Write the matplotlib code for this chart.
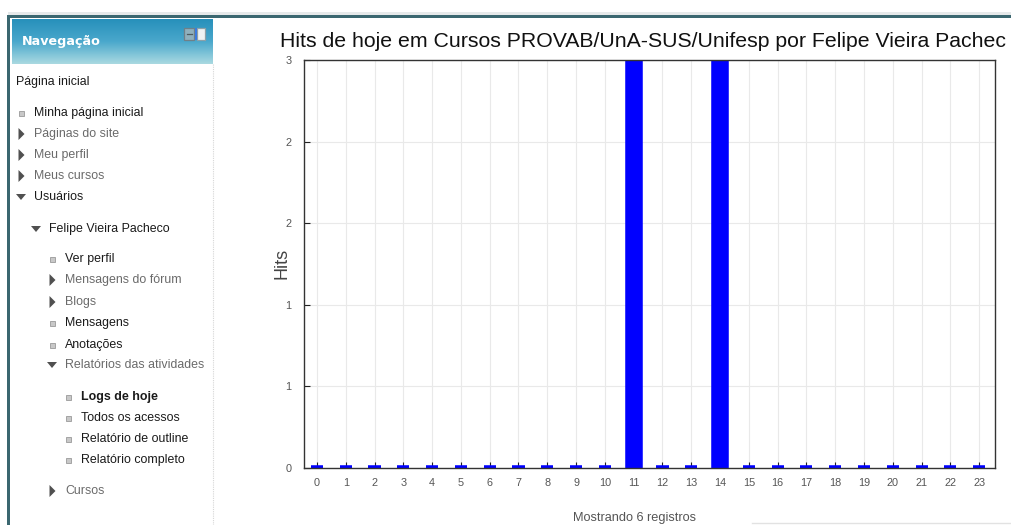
import matplotlib
matplotlib.use('Agg')
import numpy as np
import matplotlib.pyplot as plt
from matplotlib import font_manager
from matplotlib.patches import Rectangle, Polygon
from matplotlib.colors import LinearSegmentedColormap

# --- DATA ---
hours = [0, 1, 2, 3, 4, 5, 6, 7, 8, 9, 10, 11,
         12, 13, 14, 15, 16, 17, 18, 19, 20, 21, 22, 23]
hits = [0, 0, 0, 0, 0, 0, 0, 0, 0, 0, 0, 3,
        0, 0, 3, 0, 0, 0, 0, 0, 0, 0, 0, 0]
y_ticks = [0, 0.6, 1.2, 1.8, 2.4, 3.0]
chart_title = "Hits de hoje em Cursos PROVAB/UnA-SUS/Unifesp por Felipe Vieira Pachec"
y_label = "Hits"
footer = "Mostrando 6 registros"

nav_title = "Navegação"
nav_labels = ["Página inicial", "Minha página inicial", "Páginas do site", "Meu perfil",
              "Meus cursos", "Usuários", "Felipe Vieira Pacheco", "Ver perfil",
              "Mensagens do fórum", "Blogs", "Mensagens", "Anotações",
              "Relatórios das atividades", "Logs de hoje", "Todos os acessos",
              "Relatório de outline", "Relatório completo", "Cursos"]
nav_levels = [0, 1, 1, 1, 1, 1, 2, 3, 3, 3, 3, 3, 3, 4, 4, 4, 4, 3]
nav_kinds = ["none", "leaf", "closed", "closed", "closed", "open", "open", "leaf",
             "closed", "closed", "leaf", "leaf", "open", "leaf", "leaf", "leaf", "leaf", "closed"]


def pick_font(*names):
    avail = {f.name for f in font_manager.fontManager.ttflist}
    for n in names:
        if n in avail:
            return n
    return 'DejaVu Sans'


NARROW = pick_font('Liberation Sans Narrow', 'Liberation Sans')
W, H = 1011, 525

fig = plt.figure(figsize=(W / 100, H / 100), dpi=100)
fig.patch.set_facecolor('white')

# --- PAGE / SIDEBAR (pixel coordinates) ---
bg = fig.add_axes([0, 0, 1, 1])
bg.axis('off')

# top bar + left border
bg.add_patch(Rectangle((8, 12), W - 8, 3, color='#e6e9ea', lw=0))
bg.add_patch(Rectangle((8, 15), W - 8, 3, color='#3b6770', lw=0))
bg.add_patch(Rectangle((7, 15), 3, H - 15, color='#3b6770', lw=0))

# header gradient
grad = np.linspace(0, 1, 64).reshape(-1, 1)
cm_head = LinearSegmentedColormap.from_list('head', ['#2790bb', '#4aa8cc', '#a9d9e1'])
bg.imshow(grad, extent=[12, 213, 64, 19], aspect='auto', cmap=cm_head, interpolation='bilinear')
bg.text(22, 42, nav_title, color='white', fontsize=9.2, weight='bold',
        family='DejaVu Sans', va='center', ha='left')
# dock icon
bg.add_patch(Rectangle((184, 27.5), 10, 12, facecolor='#8fb0bd', edgecolor='#6f8088', lw=0.9))
bg.plot([186.5, 191.5], [33.5, 33.5], color='#4d5b60', lw=0.9)
bg.add_patch(Rectangle((197, 27.5), 8, 12, facecolor='#eef2f3', edgecolor='#8ea0a7', lw=0.9))
bg.add_patch(Rectangle((195, 27.5), 2.2, 12, facecolor='#3b7be0', lw=0))

# dotted right border of block
bg.plot([213, 213], [64, H], color='#d6d6d6', lw=0.8, ls=(0, (1, 1)))

row_y = [82, 113, 134, 155, 176, 197, 229, 259, 280, 302, 323, 345, 365,
         397, 418, 439, 460, 491]
text_x = [16, 34, 49, 65, 81]
dark = {"Minha página inicial", "Usuários", "Felipe Vieira Pacheco", "Ver perfil",
        "Mensagens", "Anotações", "Logs de hoje", "Todos os acessos",
        "Relatório de outline", "Relatório completo", "Página inicial"}
for label, lvl, kind, y in zip(nav_labels, nav_levels, nav_kinds, row_y):
    x = text_x[lvl]
    cx = x - 13
    if kind == "leaf":
        bg.add_patch(Rectangle((cx - 2, y - 2), 5, 5, facecolor='#c8c8c8',
                               edgecolor='#9a9a9a', lw=0.6))
    elif kind == "closed":
        bg.add_patch(Polygon([(cx - 2.5, y - 6), (cx - 2.5, y + 6), (cx + 3.5, y)],
                             closed=True, color='#505050', lw=0))
    elif kind == "open":
        bg.add_patch(Polygon([(cx - 5, y - 3), (cx + 5, y - 3), (cx, y + 3)],
                             closed=True, color='#505050', lw=0))
    col = '#1a1a1a' if label in dark else '#6a6a6a'
    bg.text(x, y, label, fontsize=8.9, family=NARROW, color=col, va='center', ha='left',
            weight='bold' if label == "Logs de hoje" else 'normal')

# footer text + faint box
bg.text(573, 524, footer, fontsize=9.2, family=NARROW, color='#555555', va='bottom', ha='left')
bg.plot([752, W], [522.5, 522.5], color='#e2e2e2', lw=1)

bg.set_xlim(0, W)
bg.set_ylim(H, 0)

# --- CHART ---
ax = fig.add_axes([304 / W, 1 - 468 / H, 691 / W, 408 / H])
ax.bar(hours, hits, width=0.42, color='#0000ff', edgecolor='#0000ff', linewidth=4, zorder=2)
ax.set_xlim(-0.45, 23.55)
ax.set_ylim(0, 3)
ax.set_xticks(hours)
ax.set_xticklabels([str(h) for h in hours])
ax.set_yticks(y_ticks)
ax.set_yticklabels([str(int(round(v))) for v in y_ticks])
ax.grid(True, color='#e9e9e9', lw=0.8, zorder=0)
ax.set_axisbelow(True)
ax.tick_params(direction='in', length=4, width=0.8, color='#222222',
               labelcolor='#555555', labelsize=7.8, pad=7)
ax.tick_params(axis='y', pad=9)
for lab in ax.get_xticklabels() + ax.get_yticklabels():
    lab.set_family(NARROW)
for s in ax.spines.values():
    s.set_color('#333333')
    s.set_linewidth(1)

fig.text(280 / W, 1 - 47 / H, chart_title, fontsize=15.3, family=NARROW,
         color='#111111', va='baseline', ha='left')
fig.text(282 / W, 1 - 263 / H, y_label, fontsize=13, family=NARROW, color='#444444',
         rotation=90, va='center', ha='center')

fig.savefig('out.png', dpi=100)
